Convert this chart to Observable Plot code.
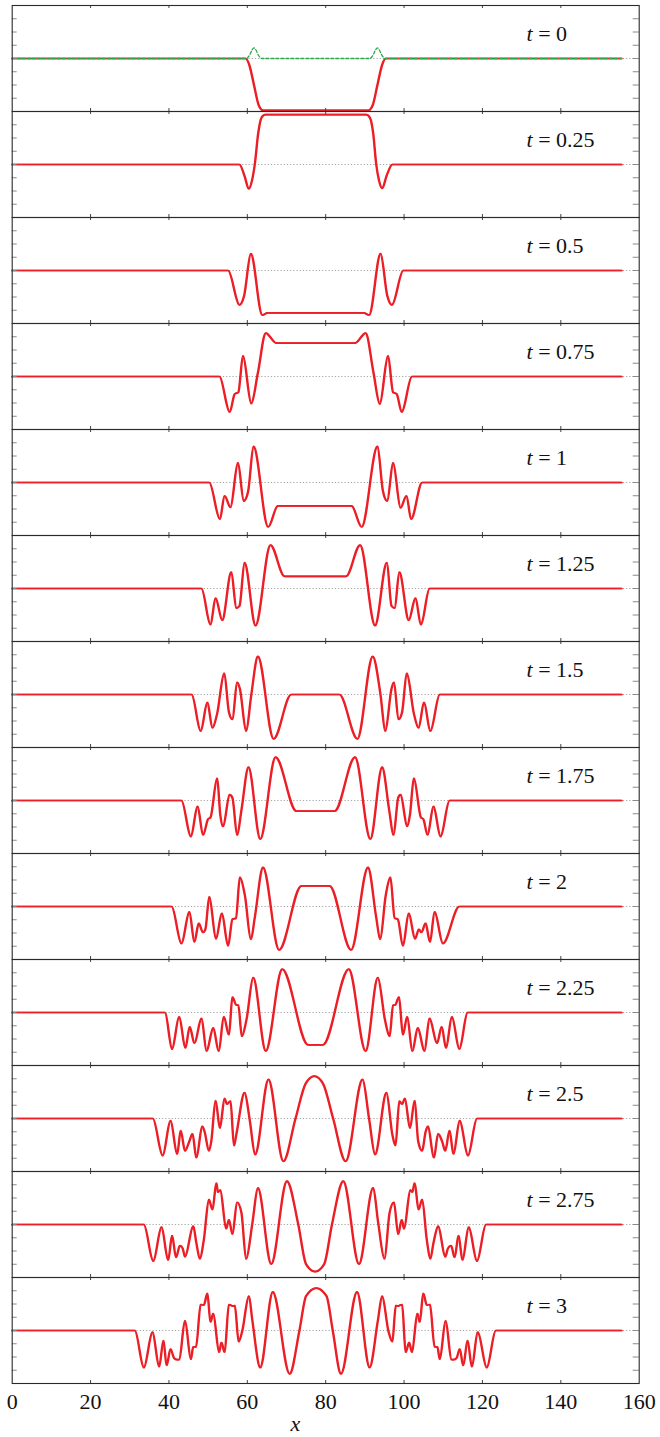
<!DOCTYPE html>
<html><head><meta charset="utf-8">
<script src="https://cdn.jsdelivr.net/npm/d3@7"></script>
<script src="https://cdn.jsdelivr.net/npm/@observablehq/plot@0.6"></script>
<style>
html,body{margin:0;padding:0;background:#fff;}
body{width:660px;height:1437px;overflow:hidden;position:relative;font-family:'Liberation Serif','Times New Roman',serif;}
.panel{position:absolute;left:0;width:660px;}
.panel svg, .panel svg text{font-family:'Liberation Serif','Times New Roman',serif !important;}
</style></head><body><div id="chart"></div>
<script>
const times = ["0","0.25","0.5","0.75","1","1.25","1.5","1.75","2","2.25","2.5","2.75","3"];
const xTicks = [0,20,40,60,80,100,120,140,160];
const yTicks = [-0.75,-0.5,-0.25,0,0.25,0.5,0.75];

const green_t0 = [[0,0],[59.7,0],[60.7,0.08],[61.2,0.16],[61.7,0.2],[62.2,0.16],[62.7,0.08],[63.7,0],[91.2,0],[92.2,0.08],[92.7,0.16],[93.2,0.2],[93.7,0.16],[94.2,0.08],[95.2,0],[155.5,0]];

const wave_t0 = [[0,0],[59.6,0],[60.5,-0.12],[61.7,-0.5],[62.9,-0.88],[64.0,-0.98],[90.9,-0.98],[92.0,-0.88],[93.2,-0.5],[94.4,-0.12],[95.3,0],[155.5,0]];

const wave_t025 = [[0,0],[58.0,0],[59.3,-0.22],[60.4,-0.46],[61.2,-0.3],[61.9,0],[62.8,0.6],[63.6,0.88],[64.5,0.94],[90.4,0.94],[91.3,0.88],[92.1,0.6],[92.9,0],[93.6,-0.3],[94.4,-0.45],[95.6,-0.2],[97.0,0],[155.5,0]];

const wave_t05 = [[0,0],[55.1,0],[58.0,-0.65],[59.2,-0.47],[60.9,0.32],[63.8,-0.84],[65.2,-0.80],[89.7,-0.80],[91.1,-0.84],[94.0,0.32],[95.7,-0.47],[96.9,-0.65],[99.8,0],[155.5,0]];

const wave_t075 = [[0,0],[52.9,0],[55.5,-0.67],[56.8,-0.33],[57.7,-0.30],[58.9,0.39],[61.0,-0.51],[62.7,0.07],[64.7,0.82],[67.4,0.63],[87.5,0.63],[90.2,0.82],[92.2,0.07],[93.8,-0.52],[95.9,0.39],[97.2,-0.30],[98.1,-0.33],[99.4,-0.67],[102.0,0],[155.5,0]];

const wave_t1 = [[0,0],[50.3,0],[53.0,-0.69],[54.2,-0.25],[55.7,-0.47],[57.6,0.37],[59.1,-0.35],[60.2,-0.17],[61.6,0.68],[65.3,-0.84],[67.8,-0.44],[86.6,-0.44],[89.2,-0.84],[93.2,0.68],[94.6,-0.16],[95.7,-0.35],[97.2,0.37],[99.1,-0.48],[100.6,-0.25],[101.8,-0.69],[104.6,0],[155.5,0]];

const wave_t125 = [[0,0],[48.3,0],[50.6,-0.68],[51.9,-0.18],[53.6,-0.60],[55.9,0.31],[57.2,-0.37],[58.0,-0.33],[59.3,0.49],[62.1,-0.70],[65.9,0.82],[69.5,0.23],[85.2,0.23],[88.8,0.82],[92.6,-0.70],[95.6,0.49],[96.8,-0.33],[97.6,-0.37],[98.8,0.31],[101.2,-0.60],[102.9,-0.18],[104.3,-0.68],[106.5,0],[155.5,0]];

const wave_t15 = [[0,0],[45.8,0],[48.1,-0.69],[49.8,-0.15],[51.1,-0.63],[52.3,-0.36],[54.1,0.40],[55.3,-0.33],[56.2,-0.47],[57.4,0.23],[58.1,0.11],[59.7,-0.69],[61.0,-0.01],[62.7,0.72],[66.7,-0.84],[71.2,0],[83.5,0],[88.1,-0.84],[92.0,0.72],[94.0,-0.01],[95.2,-0.69],[96.8,0.11],[97.4,0.23],[98.6,-0.47],[99.5,-0.33],[100.7,0.40],[102.5,-0.36],[103.7,-0.63],[105.1,-0.15],[106.7,-0.69],[109.1,0],[155.5,0]];

const wave_t175 = [[0,0],[43.2,0],[45.6,-0.68],[47.3,-0.11],[48.7,-0.65],[50.0,-0.35],[50.6,-0.32],[52.3,0.42],[53.1,-0.27],[53.8,-0.49],[55.5,0.11],[56.2,0.05],[57.4,-0.65],[58.5,-0.18],[60.3,0.63],[63.3,-0.73],[67.2,0.82],[72.5,-0.20],[82.3,-0.20],[87.5,0.82],[91.4,-0.73],[94.4,0.63],[96.2,-0.18],[97.3,-0.65],[98.5,0.05],[99.1,0.11],[100.8,-0.49],[101.5,-0.27],[102.5,0.42],[104.3,-0.32],[104.9,-0.35],[106.0,-0.65],[107.5,-0.11],[109.3,-0.68],[111.6,0],[155.5,0]];

const wave_t2 = [[0,0],[40.7,0],[43.2,-0.70],[45.2,-0.10],[46.5,-0.67],[47.6,-0.32],[48.7,-0.49],[49.3,-0.43],[50.3,0.18],[52.0,-0.61],[53.5,-0.13],[55.1,-0.74],[56.2,-0.24],[57.1,-0.22],[58.1,0.55],[59.4,0.20],[60.9,-0.62],[61.9,-0.21],[64.0,0.74],[68.1,-0.82],[73.8,0.39],[81.0,0.39],[86.5,-0.82],[90.8,0.74],[92.9,-0.21],[93.9,-0.62],[95.3,0.20],[96.5,0.55],[97.6,-0.22],[98.4,-0.24],[99.7,-0.74],[101.2,-0.13],[102.8,-0.61],[103.8,-0.43],[104.4,-0.49],[105.5,-0.32],[106.6,-0.67],[107.8,-0.10],[109.9,-0.70],[114.1,0],[155.5,0]];

const wave_t225 = [[0,0],[39.0,0],[40.8,-0.69],[42.6,-0.08],[44.2,-0.67],[45.3,-0.27],[46.5,-0.58],[48.3,-0.11],[49.6,-0.73],[51.3,-0.29],[52.7,-0.73],[54.0,-0.08],[55.3,-0.42],[56.2,0.29],[57.2,0.14],[57.7,0.14],[58.6,-0.45],[59.8,-0.13],[61.5,0.66],[64.7,-0.73],[68.9,0.82],[75.5,-0.61],[79.3,-0.61],[85.9,0.82],[90.2,-0.73],[93.3,0.66],[95.1,-0.13],[96.3,-0.45],[97.2,0.14],[97.7,0.14],[98.7,0.29],[99.7,-0.42],[100.8,-0.08],[102.1,-0.73],[103.5,-0.29],[105.2,-0.73],[106.5,-0.11],[108.4,-0.58],[109.6,-0.27],[110.7,-0.67],[112.2,-0.08],[114.1,-0.69],[116.2,0],[155.5,0]];

const wave_t25 = [[0,0],[35.9,0],[38.4,-0.70],[40.4,-0.04],[42.1,-0.67],[43.0,-0.23],[44.1,-0.61],[45.2,-0.43],[46.0,-0.29],[47.0,-0.74],[48.5,-0.15],[49.1,-0.25],[50.2,-0.61],[50.8,-0.43],[51.9,0.34],[53.0,-0.18],[54.2,0.38],[54.8,0.27],[55.7,0.33],[56.6,-0.51],[57.2,-0.30],[59.3,0.49],[60.6,-0.02],[62.0,-0.68],[65.4,0.74],[69.2,-0.81],[72.3,0.0],[74.9,0.66],[77.1,0.80],[79.3,0.66],[81.9,0.0],[85.1,-0.81],[89.4,0.74],[91.1,-0.02],[92.6,-0.68],[95.5,0.49],[97.0,-0.30],[97.8,-0.51],[98.8,0.33],[99.5,0.27],[100.2,0.38],[101.5,-0.18],[102.7,0.34],[103.6,-0.43],[104.6,-0.61],[105.5,-0.25],[106.1,-0.15],[107.6,-0.74],[108.7,-0.29],[109.7,-0.43],[110.5,-0.61],[111.6,-0.23],[112.6,-0.67],[114.2,-0.04],[116.3,-0.70],[118.6,0],[155.5,0]];

const wave_t275 = [[0,0],[33.6,0],[36.0,-0.69],[38.1,-0.05],[39.8,-0.67],[40.8,-0.21],[41.8,-0.62],[42.8,-0.40],[43.5,-0.45],[44.1,-0.61],[46.2,-0.03],[47.0,-0.35],[47.9,-0.65],[48.9,-0.29],[50.2,0.47],[51.1,0.28],[52.1,0.78],[52.5,0.61],[53.1,0.65],[54.6,-0.08],[55.3,0.09],[56.2,-0.18],[57.4,0.42],[58.5,0.22],[59.7,-0.65],[61.3,0.03],[62.7,0.69],[66.1,-0.75],[70.1,0.82],[73.0,0.0],[75.0,-0.75],[77.3,-0.89],[79.6,-0.75],[81.6,0.0],[84.5,0.82],[88.5,-0.75],[92.1,0.69],[93.4,0.03],[95.0,-0.65],[96.3,0.22],[97.4,0.42],[98.5,-0.18],[99.4,0.09],[100.0,-0.08],[101.6,0.65],[102.1,0.61],[102.7,0.78],[103.7,0.28],[104.6,0.47],[105.8,-0.29],[106.7,-0.65],[107.5,-0.35],[108.7,-0.03],[110.5,-0.61],[111.2,-0.45],[112.0,-0.40],[112.9,-0.62],[113.9,-0.21],[114.9,-0.67],[116.5,-0.05],[118.6,-0.69],[120.9,0],[155.5,0]];

const wave_t3 = [[0,0],[31.3,0],[33.6,-0.70],[35.8,-0.03],[37.5,-0.68],[38.6,-0.19],[39.4,-0.66],[40.4,-0.35],[41.3,-0.52],[42.1,-0.55],[42.6,-0.55],[44.1,0.18],[45.6,-0.54],[46.2,-0.31],[46.9,-0.31],[48.1,0.49],[48.9,0.48],[49.8,0.70],[50.6,0.16],[51.3,0.32],[52.8,-0.41],[53.4,-0.23],[54.2,-0.41],[55.3,0.49],[56.3,0.46],[56.8,0.47],[57.8,-0.21],[58.7,-0.01],[60.4,0.65],[61.3,0.18],[63.3,-0.70],[66.5,0.73],[70.8,-0.82],[73.3,0.0],[75.0,0.65],[77.6,0.80],[80.2,0.65],[81.8,0.0],[83.9,-0.82],[88.0,0.73],[91.2,-0.70],[93.3,0.18],[94.4,0.65],[96.0,-0.01],[97.0,-0.21],[97.9,0.47],[98.4,0.46],[99.5,0.49],[100.4,-0.41],[101.3,-0.23],[102.0,-0.41],[103.4,0.32],[104.0,0.16],[104.9,0.70],[105.8,0.48],[106.6,0.49],[107.8,-0.31],[108.5,-0.31],[109.1,-0.54],[110.6,0.18],[112.1,-0.55],[112.6,-0.55],[113.4,-0.52],[114.2,-0.35],[115.1,-0.66],[116.2,-0.19],[117.3,-0.68],[118.8,-0.03],[121.1,-0.70],[123.4,0],[155.5,0]];

const waves = [wave_t0,wave_t025,wave_t05,wave_t075,wave_t1,wave_t125,wave_t15,wave_t175,wave_t2,wave_t225,wave_t25,wave_t275,wave_t3];

const RED = "#ec1e26";
const W = 660, ML = 11.7, MR = 21.3, PH = 106, TOP0 = 4.7, BOTTOM_EXTRA = 56;
const FW = W - ML - MR;
const FONT = "'Liberation Serif', 'Times New Roman', serif";

const chart = document.getElementById("chart");

waves.forEach((wave, i) => {
  const last = i === waves.length - 1;
  const marks = [
    Plot.ruleY([0], {y: d => d, stroke: "#9a9a9a", strokeWidth: 0.9, strokeDasharray: "1.2,2"}),
    Plot.line(wave, {x: d => d[0], y: d => d[1], curve: "monotone-x", stroke: RED, strokeWidth: 1.7, dx: -0.35}),
    Plot.line(wave, {x: d => d[0], y: d => d[1], curve: "monotone-x", stroke: RED, strokeWidth: 1.7, dx: 0.35})
  ];
  if (i === 0) {
    marks.push(Plot.line(green_t0, {x: d => d[0], y: d => d[1], curve: "monotone-x", stroke: "#2ea84a", strokeWidth: 1.3, strokeDasharray: "3,2"}));
  }
  marks.push(
    Plot.ruleY(yTicks, {y: d => d, stroke: "#8a8a8a", insetRight: FW - 5}),
    Plot.ruleY(yTicks, {y: d => d, stroke: "#8a8a8a", insetLeft: FW - 6}),
    Plot.ruleX(xTicks.slice(1, -1), {x: d => d, stroke: "#444", insetBottom: PH - 3}),
    Plot.ruleX(xTicks.slice(1, -1), {x: d => d, stroke: "#444", insetTop: PH - 3}),
    Plot.frame({stroke: "#2a2a2a", strokeWidth: 1.1}),
    Plot.text(["t = " + times[i]], {text: d => d, frameAnchor: "top-left", lineAnchor: "middle", dx: 514.3, dy: 28, textAnchor: "start", fontSize: 22, fontFamily: FONT, fill: "#111"})
  );
  if (last) {
    marks.push(
      Plot.axisX(xTicks, {tickSize: 0, tickPadding: 10, fontSize: 22, fontFamily: FONT, label: null, fill: "#111"}),
      Plot.text(["x"], {text: d => d, frameAnchor: "bottom-left", lineAnchor: "middle", dx: 278.3, dy: 40, fontStyle: "italic", fontSize: 22, fontFamily: FONT, fill: "#111"})
    );
  }
  const svg = Plot.plot({
    width: W,
    height: PH + (last ? BOTTOM_EXTRA : 0),
    marginLeft: ML, marginRight: MR, marginTop: 0, marginBottom: last ? BOTTOM_EXTRA : 0,
    x: {domain: [0, 160], axis: null},
    y: {domain: [-1, 1], axis: null},
    style: {overflow: "visible", background: "transparent", fontFamily: FONT},
    marks
  });
  d3.select(svg).selectAll("text").each(function() {
    const s = this.textContent;
    if (s.startsWith("t = ")) {
      const el = d3.select(this);
      el.text(null);
      el.append("tspan").attr("font-style", "italic").text("t");
      el.append("tspan").text(" = " + s.slice(4));
    }
  });
  const div = document.createElement("div");
  div.className = "panel";
  div.style.top = (TOP0 + PH * i) + "px";
  div.appendChild(svg);
  chart.appendChild(div);
});
</script></body></html>
